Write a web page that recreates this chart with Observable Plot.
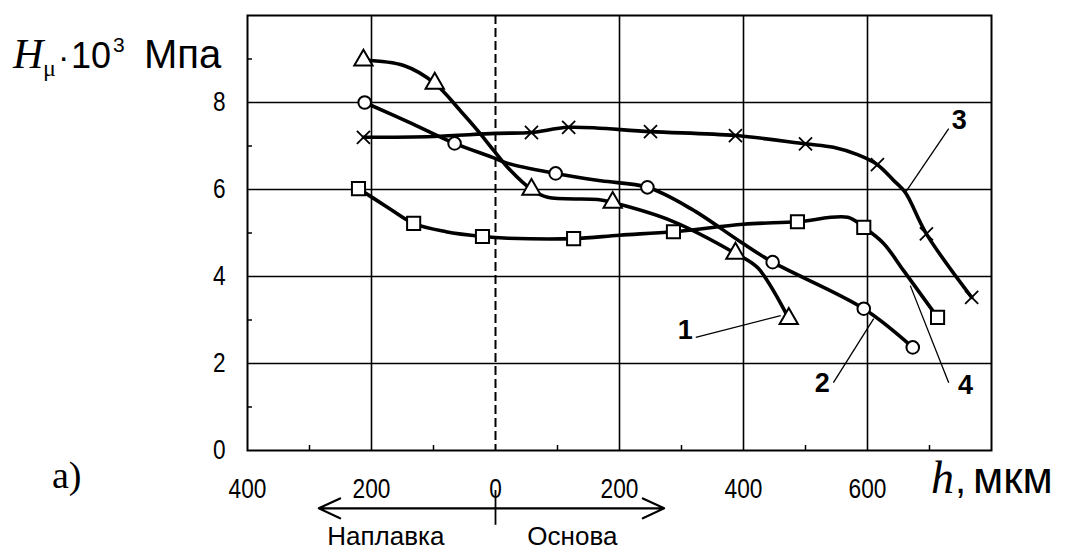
<!DOCTYPE html>
<html>
<head>
<meta charset="utf-8">
<script src="https://cdn.jsdelivr.net/npm/d3@7"></script>
<script src="https://cdn.jsdelivr.net/npm/@observablehq/plot@0.6"></script>
<style>
  html, body { margin: 0; padding: 0; background: #fff; }
  #chart svg { display: block; }
</style>
</head>
<body>
<div id="chart"></div>
<script>
// ---- Data ----
// x: h, мкм (negative = Наплавка side, positive = Основа); y: Hμ·10^3 МПа
const curve1Markers = [[-213, 8.97], [-98, 8.44], [58, 6.0], [189, 5.7], [387, 4.53], [473, 3.03]];
const curve1Path = [[-213, 8.97], [-148, 8.85], [-98, 8.44], [-56, 7.8], [-29, 7.36], [-3, 6.9], [24, 6.44], [58, 6.0], [84, 5.82], [165, 5.77], [189, 5.7], [282, 5.29], [387, 4.53], [423, 4.2], [473, 3.03]];

const curve2Markers = [[-211, 8.0], [-66, 7.06], [97, 6.37], [245, 6.05], [447, 4.33], [594, 3.26], [673, 2.37]];
const curve2Path = [[-211, 8.0], [-140, 7.55], [-66, 7.06], [-5, 6.74], [20, 6.6], [97, 6.37], [170, 6.2], [245, 6.05], [315, 5.56], [395, 4.8], [447, 4.33], [594, 3.26], [673, 2.37]];

const curve3Markers = [[-213, 7.2], [58, 7.31], [118, 7.43], [250, 7.33], [387, 7.24], [500, 7.05], [616, 6.57], [695, 4.98], [768, 3.52]];
const curve3Path = [[-213, 7.2], [-100, 7.22], [0, 7.29], [58, 7.31], [118, 7.43], [250, 7.33], [387, 7.24], [500, 7.05], [545, 6.97], [584, 6.8], [616, 6.57], [642, 6.21], [661, 5.93], [695, 4.98], [768, 3.52]];

const curve4Markers = [[-221, 6.02], [-132, 5.22], [-21, 4.92], [126, 4.87], [287, 5.03], [487, 5.26], [594, 5.13], [713, 3.06]];
const curve4Path = [[-221, 6.02], [-175, 5.6], [-132, 5.22], [-80, 5.03], [-21, 4.92], [20, 4.88], [126, 4.87], [200, 4.95], [287, 5.03], [400, 5.2], [487, 5.26], [568, 5.36], [594, 5.13], [626, 4.76], [658, 4.14], [713, 3.06]];

const curveNames = ["1", "2", "3", "4"];
// label anchor [x, y] and leader line [x1, y1, x2, y2] in data units
const labelPos = [[306, 2.76], [527, 1.54], [748, 7.59], [758, 1.49]];
const leaders = [[323, 2.6, 460, 3.1], [545, 1.56, 610, 3.03], [731, 7.4, 661, 5.93], [731, 1.56, 669, 3.79]];

const xTicks = [-400, -200, 0, 200, 400, 600];
const xMinor = [-300, -100, 100, 300, 500, 700];
const yTicks = [0, 2, 4, 6, 8];
const yMinor = [1, 3, 5, 7, 9];
const xGrid = [-200, 200, 400, 600];
const yGrid = [2, 4, 6, 8];

// Bottom annotation (direction arrows), data units
const dirArrowY = -1.33;
const dirArrows = [[0, -285], [0, 272]];
const dirTick = [0, -0.92, -1.72];
const dirLabels = [["Наплавка", -177], ["Основа", 124]];
const dirLabelY = -1.98;

// ---- Build ----
const toPts = (arr, series) => arr.map(([x, y]) => ({x, y, series}));
const paths = [curve1Path, curve2Path, curve3Path, curve4Path];
const markers = [curve1Markers, curve2Markers, curve3Markers, curve4Markers];
const symbols = ["triangle", "circle", "times", "square"];
const radii = [6.8, 6.3, 6, 7.4];

const narrow = "'Liberation Sans Narrow', 'Arial Narrow', 'Liberation Sans', sans-serif";
const sans = "'Liberation Sans', Arial, Helvetica, sans-serif";
const serif = "'Liberation Serif', 'Times New Roman', 'DejaVu Serif', serif";

const marks = [
  Plot.ruleX(xGrid, {stroke: "black", strokeWidth: 1.6}),
  Plot.ruleY(yGrid, {stroke: "black", strokeWidth: 1.6}),
  Plot.ruleX([0], {stroke: "black", strokeWidth: 2, strokeDasharray: "9,4"}),
  Plot.frame({stroke: "black", strokeWidth: 2}),
  Plot.axisX({ticks: xTicks, tickSize: 0, tickPadding: 28, tickFormat: d => String(Math.abs(d)), fontSize: 27, fontFamily: narrow, label: null}),
  Plot.axisY({ticks: yTicks, tickSize: 0, tickPadding: 22, fontSize: 27, fontFamily: narrow, label: null}),
  Plot.axisX({ticks: xMinor, tickSize: -5, tickFormat: () => "", label: null, strokeWidth: 1.5}),
  Plot.axisY({ticks: yMinor, tickSize: -5, tickFormat: () => "", label: null, strokeWidth: 1.5}),
];

paths.forEach((p, i) => {
  marks.push(Plot.line(toPts(p, curveNames[i]), {x: "x", y: "y", curve: "catmull-rom", stroke: "black", strokeWidth: 3.6}));
});
markers.forEach((m, i) => {
  marks.push(Plot.dot(toPts(m, curveNames[i]), {
    x: "x", y: "y", symbol: () => symbols[i], r: radii[i],
    fill: symbols[i] === "times" ? "none" : "white",
    stroke: "black", strokeWidth: symbols[i] === "times" ? 1.8 : 2
  }));
});

const leaderData = leaders.map(([x1, y1, x2, y2]) => ({x1, y1, x2, y2}));
marks.push(Plot.link(leaderData, {x1: "x1", y1: "y1", x2: "x2", y2: "y2", stroke: "black", strokeWidth: 1.3}));
marks.push(Plot.text(labelPos.map(([x, y], i) => ({x, y, t: curveNames[i]})), {
  x: "x", y: "y", text: "t", fontSize: 27, fontWeight: "bold", fontFamily: sans, fill: "black"
}));

// direction arrows under the axis
marks.push(Plot.arrow(dirArrows.map(([a, b]) => ({x1: a, x2: b, y: dirArrowY})), {
  x1: "x1", x2: "x2", y1: "y", y2: "y", stroke: "black", strokeWidth: 2.2, headLength: 16, headAngle: 50
}));
marks.push(Plot.ruleX([dirTick[0]], {y1: dirTick[1], y2: dirTick[2], stroke: "black", strokeWidth: 1.8}));
marks.push(Plot.text(dirLabels.map(([t, x]) => ({t, x, y: dirLabelY})), {
  x: "x", y: "y", text: "t", fontSize: 26, fontFamily: sans, fill: "black", lineAnchor: "middle"
}));

const plot = Plot.plot({
  width: 1067,
  height: 553,
  marginLeft: 247,
  marginRight: 76,
  marginTop: 15,
  marginBottom: 103,
  x: {domain: [-400, 800]},
  y: {domain: [0, 10]},
  style: {background: "white", color: "black", overflow: "visible"},
  marks
});
document.getElementById("chart").appendChild(plot);

const svg = d3.select(plot);
// condense the tick labels (the original uses a narrow face)
svg.selectAll("g[aria-label='x-axis tick label'] text, g[aria-label='y-axis tick label'] text").each(function() {
  const w = this.getComputedTextLength();
  if (w > 0) {
    this.setAttribute("textLength", (w * 0.84).toFixed(1));
    this.setAttribute("lengthAdjust", "spacingAndGlyphs");
  }
});

// ---- Titles with mixed fonts ----
const t = svg.append("text").attr("y", 68).attr("fill", "black").attr("text-anchor", "start");
t.append("tspan").attr("x", 13).attr("font-family", serif).attr("font-style", "italic").attr("font-size", 42).text("H");
t.append("tspan").attr("x", 43).attr("font-family", serif).attr("font-size", 24).attr("dy", 8).text("μ");
t.append("tspan").attr("x", 58).attr("font-family", sans).attr("font-size", 34).attr("dy", -8).text("·");
t.append("tspan").attr("x", 71).attr("font-family", sans).attr("font-size", 36).text("10");
t.append("tspan").attr("x", 113).attr("font-family", sans).attr("font-size", 21).attr("dy", -16).text("3");
t.append("tspan").attr("x", 144).attr("font-family", sans).attr("font-size", 40).attr("dy", 16).text("Мпа");

const hx = svg.append("text").attr("y", 493).attr("fill", "black").attr("text-anchor", "start");
hx.append("tspan").attr("x", 931).attr("font-family", serif).attr("font-style", "italic").attr("font-size", 46).text("h");
hx.append("tspan").attr("x", 955).attr("font-family", sans).attr("font-size", 40).text(",");
hx.append("tspan").attr("x", 973).attr("font-family", sans).attr("font-size", 44).text("мкм");

svg.append("text").attr("x", 52).attr("y", 488).attr("fill", "black").attr("text-anchor", "start")
  .attr("font-family", serif).attr("font-size", 38).text("a)");
</script>
</body>
</html>
